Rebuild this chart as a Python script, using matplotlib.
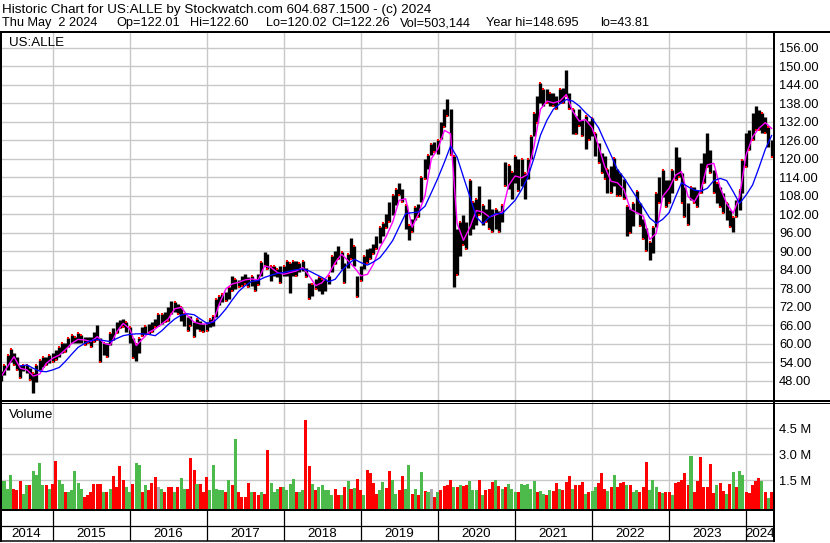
import numpy as np
import pandas as pd
import matplotlib
matplotlib.use("Agg")
import matplotlib.pyplot as plt
from matplotlib.lines import Line2D

plt.rcParams['font.family'] = ['Liberation Sans', 'DejaVu Sans']

# ---------------- data (semi-monthly samples) ----------------
dates = pd.date_range('2014-05-01', periods=241, freq='SMS')

price_low = [
    48, 50, 51.5, 54.2, 53.1, 51.5, 48.8, 51, 50.4, 48.2,
    43.9, 47.7, 51.5, 52.5, 53.1, 53.6, 54.2, 54.7, 55.8, 56.9,
    57.4, 59, 60.1, 60.1, 60.1, 60.1, 59.6, 60.1, 59, 60.7,
    61.2, 54.2, 56.3, 55.8, 59.6, 61.2, 63.4, 65, 65.5, 63.9,
    60.1, 55.2, 54.5, 57, 62.6, 63.2, 63.2, 63.7, 65.3, 65.9,
    66.4, 66.9, 67.5, 69.7, 70.2, 69.7, 67.5, 65.9, 64.2, 65.9,
    62.1, 64.8, 64.2, 63.7, 64.2, 65.3, 65.9, 68.6, 72.4, 73.4,
    74, 74.5, 77.2, 77.8, 78.3, 78.8, 79.4, 78.3, 78.8, 77,
    79, 82, 85.2, 84.2, 80.4, 82, 81.5, 79.8, 82, 82,
    76.6, 82, 82, 83.1, 83.6, 81.5, 74.4, 75.5, 77.7, 77.1,
    76, 77.1, 79.3, 83.1, 85.8, 87.4, 84.2, 79.8, 84.7, 87.4,
    85.2, 75, 80.4, 84.2, 86.3, 87.4, 89, 90.7, 92.8, 95,
    97.5, 99.5, 101.6, 104.9, 108.1, 106, 97.3, 93.5, 96.2, 100,
    101.1, 106, 113.5, 116.7, 121.1, 122.2, 121.6, 126.5, 130.3, 134,
    121.1, 78.5, 82.2, 88.6, 91.9, 90.8, 95.1, 97.3, 98.4, 101.6,
    98.4, 99.5, 97.3, 96.2, 97.3, 96.2, 99.5, 111.3, 110.3, 107,
    112, 109.5, 111.2, 106.8, 113.3, 119.8, 127.3, 131.7, 138.1, 137.1,
    138.1, 137.1, 137.1, 136, 138.1, 138.1, 140.3, 136, 127.9, 127.9,
    130.6, 127.3, 123, 126.2, 127.3, 120.8, 118.7, 115.4, 113.3, 109,
    109, 111.1, 107.9, 107.9, 106.8, 94.9, 96, 98.1, 102.5, 98.1,
    93.8, 90, 87.3, 89.5, 98, 105.5, 107.7, 104.4, 105.5, 108.8,
    113.1, 114.2, 105.5, 101.2, 98.5, 106.6, 105.5, 104.4, 108.8, 112,
    117.4, 115.3, 108.8, 105.5, 104.4, 102.3, 100.1, 97.9, 96.3, 101.2,
    103.4, 108.8, 117.4, 122.8, 126.1, 129.3, 129.3, 128.2, 128.2, 123.9,
    120.7,
]
price_high = [
    51, 53, 56.3, 58.2, 56.9, 55.8, 53.1, 53.1, 53.1, 52,
    50.4, 53.1, 54.7, 55.8, 55.8, 56.3, 56.9, 58, 59, 60.1,
    60.1, 61.7, 62.8, 62.3, 63.4, 62.8, 62.3, 62.3, 62.3, 63.9,
    66.1, 61.7, 60.1, 60.1, 63.4, 65, 67.2, 67.7, 67.9, 67.2,
    65.5, 61.7, 60, 62, 65.3, 65.9, 66.4, 66.9, 68, 69.6,
    69.6, 70.2, 71.8, 74, 73.4, 72.9, 71.8, 69.7, 68.6, 69.1,
    66.9, 68, 67.5, 66.4, 66.9, 68, 69.1, 74.5, 75.6, 76.1,
    76.7, 78.3, 82.1, 81, 80.5, 82.1, 82.6, 81.5, 82.1, 80.5,
    82.6, 86.5, 89.8, 89, 85.2, 85.2, 84.2, 85.2, 85.2, 86.9,
    86.3, 86.9, 86.9, 86.3, 86.9, 84.7, 79.8, 79.3, 80.9, 81.5,
    80.9, 80.9, 82, 88.5, 90.1, 91.7, 89.6, 86.3, 89, 94.4,
    91.7, 82, 85.2, 88.5, 90.7, 91.2, 92.3, 95, 97.7, 99.3,
    102, 106, 108.1, 110.3, 112.1, 110.3, 104.9, 98.4, 100.5, 104.3,
    105.4, 114, 120, 121.1, 124.9, 125.4, 126, 131.9, 136.2, 139.5,
    136.2, 121, 97.3, 99.5, 101.6, 99.5, 113, 106, 107, 111.3,
    104.9, 103.8, 107, 103.8, 103.8, 103.2, 104.9, 118.9, 117.8, 115.7,
    121, 120, 120, 115.4, 119.8, 127.3, 134.9, 140.3, 144.6, 142.5,
    142.5, 141.4, 141.4, 140.3, 142.5, 143, 148.7, 141.4, 136, 133.8,
    136, 132.7, 133.8, 132.2, 133.3, 128.4, 125.2, 121.9, 120.8, 116.5,
    117.6, 120.3, 116.5, 115.4, 113.3, 104.6, 103.6, 105.7, 109.5, 105.7,
    100.3, 97.5, 93, 98, 108.8, 114.2, 116.3, 113.1, 113.1, 116.3,
    123.9, 120.7, 115.3, 110.9, 105.5, 110.9, 110.9, 109.8, 118.5, 121.7,
    128.2, 122.8, 116.3, 112, 110.9, 108.8, 105.5, 103.4, 101.2, 106.6,
    109.8, 119.6, 128.2, 129.3, 134.7, 137.1, 135.8, 134.7, 133.6, 130.4,
    126.1,
]

# fast moving average (magenta), read monthly (every 2nd sample from the first)
ma_fast = [
    49.3, 52.6, 55.8, 52, 51.5, 49.5, 50.2, 53.6, 55.3, 56.3, 58, 60.1, 61.4, 61.2, 60.7,
    62.3, 60.1, 59.6, 63.9, 66.6, 64.8,
    59.4, 61.5, 63.7, 64.8, 66.4, 68, 71.3, 71.8, 69.1, 67, 66.4, 66.4, 67.3, 72.9, 77.8,
    79.4, 79.9, 80.7, 81, 80.7,
    85.2, 84.7, 83.1, 82.5, 83.1, 83.6, 84.7, 82, 78.8, 79.8, 82.5, 86.3, 89, 86.9, 84.7,
    82, 82.5, 85.8, 91.2, 94.8,
    99.5, 106.5, 107, 97.8, 102.2, 108.1, 120, 123.2, 129.2, 128.1, 99, 93.5, 97.8, 103.2,
    102.7, 101.1, 101.8, 102.7, 111.3, 114.4,
    113.8, 114.9, 124.1, 136, 138.7, 138.1, 138.7, 140.8, 135.4, 132.2, 132.7, 130, 124.1,
    117.6, 112.7, 112.2, 110, 103.6, 102.5, 101.4, 93.8,
    95.8, 107.7, 110.4, 114.7, 115.8, 107.7, 106.1, 109.8, 118, 118.5, 110.4, 105.5, 102.3,
    107.7, 121.2, 127.1, 129.8, 131.7, 129.8,
]
# slow moving average (blue), read monthly starting at the 7th sample
ma_slow = [
    52.8, 53.1, 52, 51.1, 50.9, 51.5, 52.3, 54.2, 56.6, 58.8, 60.1, 61, 61.4, 61, 60.7,
    61.7, 62.6, 63,
    63.2, 63.2, 63, 62.6, 64.2, 66.2, 68, 69.3, 69.7, 69.4, 68, 66.6, 67, 68.8, 71.3, 74.2,
    77, 78.8, 80.2, 80.5,
    81.5, 82.2, 82.8, 83.1, 83.6, 84, 84.2, 83.6, 82.5, 81.5, 80.1, 80.9, 83.6, 85.8, 87.4,
    86.3, 85.5, 86.5, 87.9, 90.5,
    93.5, 97.8, 102.2, 102.5, 102.7, 104.6, 109, 113.7, 118.9, 124.1, 120.5, 114.1, 107.6,
    101.1, 98.9, 101.1, 102.2, 102.2, 104.3, 106.5,
    110, 113.8, 120.3, 127.6, 132.5, 136, 137.8, 139.2, 138.7, 137.1, 134.9, 133, 130,
    125.7, 121.1, 116.5, 113.8, 110.6, 107.3, 104.1, 100.8,
    99, 100.3, 102.5, 107.7, 112.2, 110.9, 109.8, 109.5, 110.4, 112.9, 113.6, 112.9, 109.3,
    105.5, 108.2, 111.5, 116.9, 123, 127.5,
]

# volume in millions of shares, one per sample
volume_m = [
    .6, 1.44, 1.0, 1.79, .97, .9, 1.44, .7, 1.2, 1.2,
    2.0, 1.8, 2.47, 1.2, 1.2, 1.0, 1.25, 2.6, 1.5, 1.25,
    .8, .8, .9, 2.0, 1.3, 1.0, .5, .6, .8, 1.25,
    1.25, 1.25, .8, .8, 1.0, 1.75, 1.1, 2.33, 1.5, 1.1,
    .8, 1.25, 2.47, 2.4, .8, 1.2, .9, 1.3, 1.7, 1.1,
    1.0, .8, 1.1, 1.1, .8, 1.1, 1.6, 1.0, 1.0, 2.8,
    2.08, 1.25, 1.25, .8, 1.7, .9, 2.4, 1.0, .9, .9,
    .8, 1.5, 1.2, 3.88, .8, .5, .5, 1.3, .8, .8,
    .6, .8, .7, 3.24, 1.3, .8, 1.0, 1.1, 1.1, .9,
    1.25, 1.55, .8, .8, .9, 4.99, 2.31, 1.27, .9, 1.07,
    1.2, .9, .9, .6, 1.0, .6, .6, 1.1, 1.44, 1.0,
    1.05, 1.54, .9, .6, 2.08, 1.9, 1.34, .7, .9, 1.4,
    1.05, 2.02, 1.5, .7, .9, 1.73, .95, 2.37, .7, .98,
    .6, 1.98, .88, .8, 1.0, .5, .8, .9, 1.15, 1.2,
    1.5, 1.07, 1.1, 1.2, 1.15, 1.2, 1.44, .9, .9, 1.5,
    .6, .9, .95, 1.4, 1.5, 1.15, 1.0, 1.07, 1.25, 1.0,
    .82, .82, 1.25, 1.2, 1.25, 1.0, 1.44, .82, .85, .66,
    .63, .92, .85, 1.3, 1.0, .9, 1.4, 1.75, .95, 1.2,
    1.2, 1.36, .7, .78, .85, 1.1, 1.3, 1.92, .97, .86,
    1.1, 1.79, 1.1, 1.3, 1.36, 1.2, 1.2, .82, .92, .82,
    1.1, 2.56, .92, 1.5, 1.1, .78, .72, .82, .8, .6,
    1.3, 1.4, 1.5, 1.92, 1.2, 2.89, .82, 1.44, 2.85, 1.1,
    1.1, 2.43, .72, 1.2, 1.3, .86, .66, 1.25, 1.94, 1.1,
    2.02, 1.79, .82, .72, 1.2, 1.44, 1.63, 1.44, .82, .44,
    .82,
]
# r = down period, g = up period, x = unchanged
volume_dir = list(
    "rgggrrrggr" "ggggrgrrgg" "rgggggrrrr" "rrgrgrrrrg" "grggrgrrrx"
    "grrrgrggrr" "rgrrrggggg" "rgrgrrrrgr" "rgrrgggrgg" "ggrggrrgrg"
    "ggggrrgrgr" "grrgrrrrgg" "rrggrrggrg" "rgrgxrgrrr" "rgrgrrgggr"
    "grrrgrgrgg" "grgggggrgg" "rgrrgrrrgr" "rrgrggrrrg" "rgrrrgrggr"
    "rrgggrgrrg" "rrrrrgrrrr" "rrrgrrgrgr" "ggrrrrrgrg" "r"
)

price_ticks = list(range(48, 157, 6))
volume_ticks = [1.5, 3.0, 4.5]
volume_tick_labels = ['1.5 M', '3.0 M', '4.5 M']
years = list(range(2014, 2025))

title_line1 = "Historic Chart for US:ALLE by Stockwatch.com 604.687.1500 - (c) 2024"
quote_fields = ["Thu May  2 2024", "Op=122.01", "Hi=122.60", "Lo=120.02",
                "Cl=122.26", "Vol=503,144", "Year hi=148.695", "lo=43.81"]
quote_field_px = [2, 116, 190, 266, 331.5, 400, 486, 600]
symbol = "US:ALLE"

# ---------------- layout ----------------
W, H = 830, 543
fig = plt.figure(figsize=(W / 100, H / 100), dpi=100)
fig.patch.set_facecolor('white')

def fx(px):
    return px / W

def fy(py):
    return 1 - py / H

x_start = pd.Timestamp('2014-04-26')
x_end = pd.Timestamp('2024-05-10')
year_edges = [pd.Timestamp(f'{y}-01-01') for y in years[1:]]
GRID = '#C8C8C8'
FS = 9.3
FS_T = 9.6

RIGHT = 773.5
P_TOP, P_BOT = 31, 400
V_TOP, V_BOT = 402, 509.3
Y_BOT = 541

# ---- price panel ----
ax = fig.add_axes([0, fy(P_BOT), fx(RIGHT), (P_BOT - P_TOP) / H])
ax.set_xlim(x_start, x_end)
ax.set_ylim(41.74, 161.42)
for s in ax.spines.values():
    s.set_visible(False)
ax.set_xticks(year_edges)
ax.tick_params(axis='x', length=0, labelbottom=False)
ax.set_yticks(price_ticks)
ax.set_yticklabels([f'{v:.2f}' for v in price_ticks])
ax.yaxis.tick_right()
ax.tick_params(axis='y', length=0, pad=4.0, labelsize=FS)
ax.grid(True, color=GRID, lw=1.0)
ax.set_axisbelow(True)

ax.vlines(dates, price_low, price_high, colors='black', lw=2.4, zorder=2)
lo = np.array(price_low)
hi = np.array(price_high)
is_down = np.array([d == 'r' for d in volume_dir])
ax.scatter(dates, np.where(is_down, lo, hi), marker='s', s=2.4, color='#FF0000',
           lw=0, zorder=3)
ax.plot(dates[::2], ma_fast, color='#FF00FF', lw=1.0, zorder=4)
ax.plot(dates[6::2], ma_slow, color='#0000FF', lw=0.95, zorder=5)

# ---- volume panel ----
axv = fig.add_axes([0, fy(V_BOT), fx(RIGHT), (V_BOT - V_TOP) / H])
axv.set_xlim(x_start, x_end)
vbot = -0.2035
axv.set_ylim(vbot, 6.035)
for s in axv.spines.values():
    s.set_visible(False)
axv.set_xticks(year_edges)
axv.tick_params(axis='x', length=0, labelbottom=False)
axv.set_yticks(volume_ticks)
axv.set_yticklabels(volume_tick_labels)
axv.yaxis.tick_right()
axv.tick_params(axis='y', length=0, pad=4.0, labelsize=FS)
axv.grid(True, color=GRID, lw=1.0)
axv.set_axisbelow(True)
cmap = {'r': '#FF0000', 'g': '#4CBB4C', 'x': '#A8A8A8'}
vcols = [cmap[d] for d in volume_dir]
axv.bar(dates, np.array(volume_m) - vbot, bottom=vbot, width=14.5, color=vcols,
        lw=0, zorder=2)

# ---- year strip ----
axy = fig.add_axes([0, fy(Y_BOT), fx(RIGHT), (Y_BOT - V_BOT) / H])
axy.set_xlim(x_start, x_end)
axy.set_ylim(0, 1)
axy.axis('off')
axy.vlines(year_edges, 0, 1, colors='black', lw=0.9)
mid_row = (Y_BOT - 526) / (Y_BOT - V_BOT)
axy.axhline(mid_row, color='black', lw=0.9)
bounds = [x_start] + year_edges + [x_end]
for y, a, b in zip(years, bounds[:-1], bounds[1:]):
    axy.text(a + (b - a) / 2, (Y_BOT - 534.3) / (Y_BOT - V_BOT), str(y),
             ha='center', va='center', fontsize=FS_T)

# ---- frame lines in pixel space ----
frame = fig.add_axes([0, 0, 1, 1], zorder=10)
frame.set_xlim(0, W)
frame.set_ylim(H, 0)
frame.axis('off')
frame.patch.set_alpha(0)
PX = 0.72
def hline(y, x0, x1, w):
    frame.add_line(Line2D([x0, x1], [y, y], color='black', lw=w * PX,
                          solid_capstyle='butt'))
def vline(x, y0, y1, w):
    frame.add_line(Line2D([x, x], [y0, y1], color='black', lw=w * PX,
                          solid_capstyle='butt'))
hline(31.5, 0, W, 2)
hline(400.7, 0, W, 2)
hline(402.7, 0, W, 1)
hline(509.6, 0, RIGHT + 1, 2)
hline(541, 0, RIGHT + 1, 1.5)
vline(1, 31, 541.5, 2)
vline(RIGHT, 31, 541.5, 2)

# ---- texts ----
fig.text(fx(2), fy(12.7), title_line1, fontsize=9.7, va='baseline', ha='left')
for txt, px in zip(quote_fields, quote_field_px):
    fig.text(fx(px), fy(26), txt, fontsize=9.2, va='baseline', ha='left')
fig.text(fx(9), fy(45.7), symbol, fontsize=FS_T, va='baseline', ha='left')
fig.text(fx(9), fy(417.7), 'Volume', fontsize=FS_T, va='baseline', ha='left')

fig.savefig('out.png', dpi=100)
